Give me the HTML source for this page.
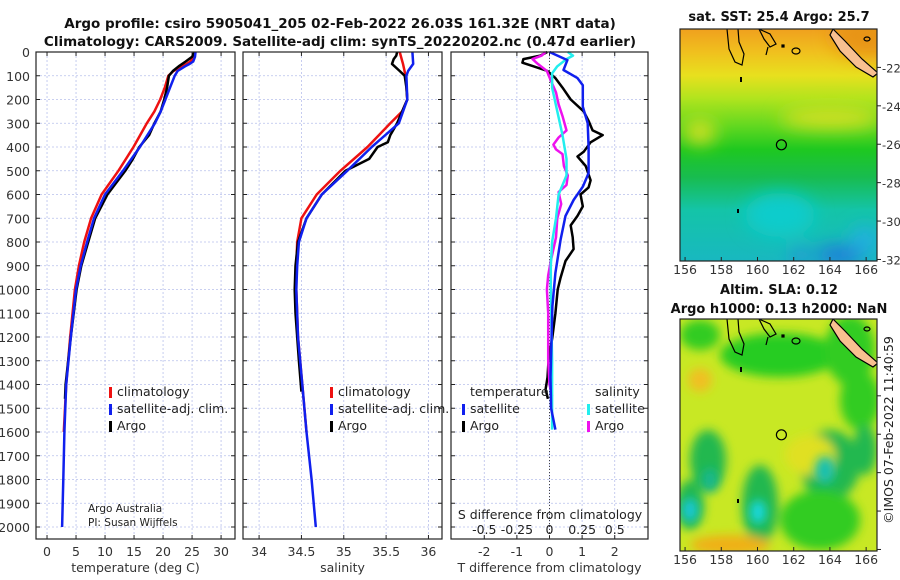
<!DOCTYPE html>
<html><head><meta charset="utf-8"><style>
html,body{margin:0;padding:0;background:#fff;}
svg{display:block;font-family:"DejaVu Sans","Liberation Sans",sans-serif;}
</style></head><body>
<svg id="fig" width="900" height="580" viewBox="0 0 900 580" xmlns="http://www.w3.org/2000/svg">
<defs>
<filter id="blur4" x="-20%" y="-20%" width="140%" height="140%"><feGaussianBlur stdDeviation="5"/></filter>
<filter id="blur8" x="-30%" y="-30%" width="160%" height="160%"><feGaussianBlur stdDeviation="9"/></filter>
<clipPath id="clipM1"><rect x="680" y="29" width="197" height="232"/></clipPath>
<clipPath id="clipM2"><rect x="680" y="319" width="197" height="232"/></clipPath>
<linearGradient id="sstGrad" x1="0" y1="0" x2="0" y2="1">
<stop offset="0" stop-color="#f0a01e"/><stop offset="0.1" stop-color="#f0c01e"/>
<stop offset="0.2" stop-color="#e8e01e"/><stop offset="0.3" stop-color="#b0e41e"/>
<stop offset="0.42" stop-color="#60d820"/><stop offset="0.52" stop-color="#1ec820"/>
<stop offset="0.64" stop-color="#18bc50"/><stop offset="0.78" stop-color="#14c4a8"/>
<stop offset="1" stop-color="#18b8c0"/>
</linearGradient>
</defs>
<g id="titles" font-weight="bold" font-size="13.5" text-anchor="middle" fill="#111">
<text x="340" y="28">Argo profile: csiro 5905041_205 02-Feb-2022 26.03S 161.32E (NRT data)</text>
<text x="340" y="46">Climatology: CARS2009. Satellite-adj clim: synTS_20220202.nc (0.47d earlier)</text>
</g>
<g id="panels"></g>
<g id="maps"></g>
</svg>
<script>
// ---------- data ----------
var depthTicks = [0,100,200,300,400,500,600,700,800,900,1000,1100,1200,1300,1400,1500,1600,1700,1800,1900,2000];
var tTicks = [0,5,10,15,20,25,30];
var sTicks = [34,34.5,35,35.5,36];
var sTickLabels = ['34','34.5','35','35.5','36'];
var dTTicks = [-2,-1,0,1,2];
var dSTicks = [-0.5,-0.25,0,0.25,0.5];
var dSTickLabels = ['-0.5','-0.25','0','0.25','0.5'];

var tClimDepth = [0,20,40,50,60,80,100,150,200,250,300,400,500,600,700,800,900,1000,1200,1400,1600];
var tClim = [25.5,25.3,24.7,24.1,23.2,21.8,20.9,20.3,19.5,18.5,17.2,14.9,12.3,9.4,7.6,6.4,5.5,4.8,4.0,3.3,2.9];
var tSatDepth = [0,20,40,50,60,80,100,150,200,250,300,400,500,600,700,800,900,1000,1200,1400,1600,1800,2000];
var tSat = [25.6,25.5,25.2,24.6,23.8,22.5,22.0,21.2,20.4,19.6,18.6,16.0,13.1,10.0,8.1,6.9,5.8,5.0,4.1,3.3,3.0,2.8,2.6];
var tArgoDepth = [0,20,40,50,60,80,100,150,200,250,300,350,400,450,500,600,700,800,900,1000,1200,1400,1460];
var tArgo = [25.4,25.0,23.9,23.3,22.7,21.7,21.0,20.7,20.2,19.6,18.5,17.6,15.9,14.8,13.5,10.4,8.3,7.1,5.9,5.1,4.1,3.2,3.1];

var sClimDepth = [0,50,100,200,250,300,400,500,600,700,800,900,1000,1100,1200,1400,1600];
var sClim = [35.66,35.70,35.73,35.75,35.69,35.55,35.28,34.96,34.68,34.50,34.45,34.44,34.44,34.45,34.46,34.51,34.56];
var sSatDepth = [0,50,80,100,200,300,400,500,600,700,800,900,1000,1200,1400,1600,1800,2000];
var sSat = [35.81,35.82,35.76,35.74,35.75,35.65,35.33,35.04,34.74,34.56,34.47,34.45,34.44,34.46,34.51,34.56,34.62,34.67];
var sArgoDepth = [0,15,30,50,80,100,150,200,300,350,380,400,450,500,600,700,800,900,1000,1100,1200,1300,1430];
var sArgo = [35.63,35.62,35.59,35.57,35.66,35.72,35.74,35.75,35.63,35.55,35.52,35.40,35.30,35.02,34.74,34.56,34.46,34.43,34.42,34.43,34.45,34.47,34.50];

var dTSatDepth = [0,34,76,110,140,230,300,400,510,567,623,690,790,930,1070,1370,1500,1590];
var dTSat = [0,0.55,0.43,0.86,1.02,1.02,1.17,1.2,1.2,1.02,0.74,0.49,0.34,0.18,0.09,0.03,0.05,0.18];
var dTArgoDepth = [0,15,30,45,60,80,110,150,200,250,290,330,350,380,420,440,480,540,570,600,650,690,730,780,830,880,950,1000,1100,1200,1300,1370,1420,1460];
var dTArgo = [-0.07,-0.28,-0.8,-0.83,-0.49,-0.06,0.18,0.4,0.65,1.05,1.2,1.32,1.63,1.26,1.05,0.86,1.11,1.26,1.2,0.95,1.02,0.86,0.65,0.71,0.74,0.49,0.34,0.25,0.18,0.09,-0.03,-0.06,-0.12,-0.05];
var dSSatDepth = [0,15,30,60,90,150,250,350,450,520,600,700,800,900,1000,1300,1590];
var dSSat = [0.14,0.18,0.13,0.06,0.02,0.02,0.06,0.1,0.13,0.13,0.07,0.05,0.02,0.01,0.01,0.02,0.02];
var dSArgoDepth = [0,15,30,50,80,120,170,220,270,330,360,390,410,430,480,520,560,590,640,700,780,880,940,1000,1100,1300,1400,1450];
var dSArgo = [-0.03,-0.06,-0.13,-0.09,-0.02,0.01,0.05,0.07,0.1,0.13,0.07,0.03,0.05,0.1,0.11,0.14,0.13,0.07,0.09,0.06,0.05,0.01,-0.01,-0.02,-0.01,-0.01,0,0.02];

var lonTicks = [156,158,160,162,164,166];
var latTicks = [-22,-24,-26,-28,-30,-32];
var floatLon = 161.32, floatLat = -26.03;

// ---------- helpers ----------
var NS = 'http://www.w3.org/2000/svg';
function mk(tag, attrs, parent){ var e=document.createElementNS(NS,tag); for(var k in attrs) e.setAttribute(k,attrs[k]); parent.appendChild(e); return e; }
var TOP=52, BOT=539;
function yD(d){ return 52 + d*(527-52)/2000; }
var panelsG = document.getElementById('panels');

function makePanel(name, x0, x1, v0, v1){
  return {name:name, x0:x0, x1:x1, x:function(v){ return x0 + (v-v0)/(v1-v0)*(x1-x0); }};
}
var P1 = makePanel('temperature-panel',36,235,-1.9,32.4);
var P2 = makePanel('salinity-panel',243,442,33.81,36.16);
var P3 = makePanel('difference-panel',451,648,-3.02,3.02);
function xS3(v){ return P3.x(v*4); }

function drawFrame(P, ticks, labels, showDepthLabels, xlabel){
  var g = mk('g',{},panelsG);
  
  
  var grid = mk('g',{stroke:'#b8c0ec','stroke-width':'0.8','stroke-dasharray':'2,2'},g);
  
  
  depthTicks.forEach(function(d){ mk('line',{x1:P.x0,x2:P.x1,y1:yD(d),y2:yD(d)},grid); });
  ticks.forEach(function(t){ var xx=P.x(t); mk('line',{x1:xx,x2:xx,y1:TOP,y2:BOT},grid); });
  var tk = mk('g',{stroke:'#222','stroke-width':'1'},g);
  depthTicks.forEach(function(d){ mk('line',{x1:P.x0,x2:P.x0+4,y1:yD(d),y2:yD(d)},tk); mk('line',{x1:P.x1-4,x2:P.x1,y1:yD(d),y2:yD(d)},tk); });
  ticks.forEach(function(t){ var xx=P.x(t); mk('line',{x1:xx,x2:xx,y1:BOT,y2:BOT-4},tk); mk('line',{x1:xx,x2:xx,y1:TOP,y2:TOP+4},tk); });
  var lab = mk('g',{'font-size':'12.5',fill:'#333','text-anchor':'middle'},g);
  
  
  ticks.forEach(function(t,i){ var e=mk('text',{x:P.x(t),y:556},lab); e.textContent=labels[i]; });
  var xl = mk('text',{x:(P.x0+P.x1)/2,y:572,'font-size':'12.5',fill:'#333','text-anchor':'middle'},g);
  xl.textContent = xlabel;
  
  
  if(showDepthLabels){
    var dl = mk('g',{'font-size':'12.5',fill:'#333','text-anchor':'end'},g);
    
    
    depthTicks.forEach(function(d){ var e=mk('text',{x:30,y:yD(d)+5},dl); e.textContent=d; });
  }
  return g;
}
function line(g, xs, ds, fx, color, w, name){
  var pts = xs.map(function(v,i){ return fx(v).toFixed(1)+','+yD(ds[i]).toFixed(1); }).join(' ');
  var p = mk('polyline',{points:pts,fill:'none',stroke:color,'stroke-width':w,'stroke-linejoin':'round'},g);
  
  
}
function legendItem(g, x, y, color, text, name){
  mk('rect',{x:x,y:y-9,width:3,height:11,fill:color},g);
  var t = mk('text',{x:x+8,y:y,'font-size':'12.5',fill:'#222'},g);
  t.textContent = text;
  
  
}
function border(g,P){ mk('rect',{x:P.x0,y:TOP,width:P.x1-P.x0,height:BOT-TOP,fill:'none',stroke:'#222','stroke-width':'1.2'},g); }

// Panel 1
var g1 = drawFrame(P1, tTicks, tTicks.map(String), true, 'temperature (deg C)');
line(g1, tClim, tClimDepth, P1.x, '#ee1111', 2.5, 'temperature-climatology-line');
line(g1, tArgo, tArgoDepth, P1.x, '#000', 2.5, 'temperature-argo-line');
line(g1, tSat, tSatDepth, P1.x, '#1020ee', 2.5, 'temperature-satellite-line');
var lg1 = mk('g',{},g1);


legendItem(lg1,109,396,'#ee1111','climatology','legend-entry-climatology');
legendItem(lg1,109,413,'#1020ee','satellite-adj. clim.','legend-entry-satellite');
legendItem(lg1,109,430,'#000','Argo','legend-entry-argo');
var cr = mk('text',{x:88,y:512,'font-size':'10.5',fill:'#222'},g1); cr.textContent='Argo Australia';


var pi = mk('text',{x:88,y:526,'font-size':'10.5',fill:'#222'},g1); pi.textContent='PI: Susan Wijffels';


border(g1,P1);

// Panel 2
var g2 = drawFrame(P2, sTicks, sTickLabels, false, 'salinity');
line(g2, sClim, sClimDepth, P2.x, '#ee1111', 2.5, 'salinity-climatology-line');
line(g2, sArgo, sArgoDepth, P2.x, '#000', 2.5, 'salinity-argo-line');
line(g2, sSat, sSatDepth, P2.x, '#1020ee', 2.5, 'salinity-satellite-line');
var lg2 = mk('g',{},g2);


legendItem(lg2,330,396,'#ee1111','climatology','legend-entry-climatology-2');
legendItem(lg2,330,413,'#1020ee','satellite-adj. clim.','legend-entry-satellite-2');
legendItem(lg2,330,430,'#000','Argo','legend-entry-argo-2');
border(g2,P2);

// Panel 3
var g3 = drawFrame(P3, dTTicks, dTTicks.map(String), false, 'T difference from climatology');
mk('line',{x1:P3.x(0),x2:P3.x(0),y1:TOP,y2:BOT,stroke:'#444','stroke-width':'1','stroke-dasharray':'1,2'},g3);
line(g3, dTArgo, dTArgoDepth, P3.x, '#000', 2.5, 'temperature-argo-difference-line');
line(g3, dSArgo, dSArgoDepth, xS3, '#ee11ee', 2.5, 'salinity-argo-difference-line');
line(g3, dSSat, dSSatDepth, xS3, '#22eeee', 2.5, 'salinity-satellite-difference-line');
line(g3, dTSat, dTSatDepth, P3.x, '#1020ee', 2.5, 'temperature-satellite-difference-line');
var lg3 = mk('g',{},g3);


var lt = mk('text',{x:470,y:396,'font-size':'12.5',fill:'#222'},lg3); lt.textContent='temperature';
var ls = mk('text',{x:595,y:396,'font-size':'12.5',fill:'#222'},lg3); ls.textContent='salinity';
legendItem(lg3,462,413,'#1020ee','satellite','legend-entry-t-satellite');
legendItem(lg3,462,430,'#000','Argo','legend-entry-t-argo');
legendItem(lg3,587,413,'#22eeee','satellite','legend-entry-s-satellite');
legendItem(lg3,587,430,'#ee11ee','Argo','legend-entry-s-argo');
var st = mk('text',{x:550,y:519,'font-size':'12.5',fill:'#222','text-anchor':'middle'},g3); st.textContent='S difference from climatology';


var sl = mk('g',{'font-size':'12.5',fill:'#222','text-anchor':'middle'},g3);


dSTicks.forEach(function(v,i){ var e=mk('text',{x:xS3(v),y:534},sl); e.textContent=dSTickLabels[i]; });
border(g3,P3);

// ---------- maps ----------
var mapsG = document.getElementById('maps');
function mapAxes(y0){
  return { x:function(lon){ return 680 + (lon-155.72)/(166.6-155.72)*197; },
           y:function(lat){ return y0 + (-20.0-lat)/(12.08)*232; }, y0:y0 };
}
function drawMap(name, y0, clip, title1, title2, fill, latLabels){
  var A = mapAxes(y0);
  var g = mk('g',{},mapsG);
  
  
  var inner = mk('g',{'clip-path':'url(#'+clip+')'},g);
  fill(inner, A);
  var c = mk('g',{fill:'none',stroke:'#000','stroke-width':'1.2'},inner);
  mk('path',{d:'M727 '+(y0)+' L729 '+(y0+20)+' L735 '+(y0+33)+' L742 '+(y0+36)+' L744 '+(y0+25)+' L739 '+(y0+13)+' L738 '+(y0)},c);
  mk('path',{d:'M759 '+(y0)+' L770 '+(y0+5)+' L776 '+(y0+15)+' L770 '+(y0+18)+' L764 '+(y0+10)+' Z'},c);
  mk('path',{d:'M792 '+(y0+22)+' a4 3 0 1 0 8 0 a4 3 0 1 0 -8 0'},c);
  mk('path',{d:'M768 '+(y0+18)+' l-2 8'},c);
  mk('rect',{x:782,y:y0+16,width:2,height:2,fill:'#000'},c);
  mk('rect',{x:740,y:y0+48,width:2,height:5,fill:'#000',stroke:'none'},c);
  mk('rect',{x:737,y:y0+180,width:2,height:4,fill:'#000',stroke:'none'},c);
  mk('path',{d:'M833 '+(y0)+' L845 '+(y0+12)+' L862 '+(y0+30)+' L878 '+(y0+44)+' L873 '+(y0+48)+' L856 '+(y0+38)+' L840 '+(y0+22)+' L830 '+(y0+6)+' Z',fill:'#f8c090',stroke:'#000','stroke-width':'1.2'},inner);
  mk('path',{d:'M864 '+(y0+10)+' a3 2 0 1 0 6 0 a3 2 0 1 0 -6 0'},c);
  var m = mk('circle',{cx:A.x(floatLon),cy:A.y(floatLat),r:5,fill:'none',stroke:'#000','stroke-width':'1.2'},g);
  
  
  mk('rect',{x:680,y:y0,width:197,height:232,fill:'none',stroke:'#222','stroke-width':'1.2'},g);
  var tk = mk('g',{stroke:'#222'},g);
  var lb = mk('g',{'font-size':'12.5',fill:'#333'},g);
  
  
  lonTicks.forEach(function(l){ var xx=A.x(l); mk('line',{x1:xx,x2:xx,y1:y0+232,y2:y0+228},tk); var e=mk('text',{x:xx,y:y0+245,'text-anchor':'middle'},lb); e.textContent=l; });
  latTicks.forEach(function(l){ var yy=A.y(l); mk('line',{x1:877,x2:881,y1:yy,y2:yy},tk); if(latLabels){ var e=mk('text',{x:882,y:yy+5,'font-size':'11.5'},lb); e.textContent=l; } });
  var t = mk('text',{x:779,y:title2?y0-25:y0-8,'font-size':'13','font-weight':'bold','text-anchor':'middle',fill:'#111'},g);
  t.textContent = title1;
  
  
  if(title2){ var t2 = mk('text',{x:779,y:y0-6,'font-size':'13','font-weight':'bold','text-anchor':'middle',fill:'#111'},g); t2.textContent=title2;
    
     }
}
drawMap('sst-map', 29, 'clipM1', 'sat. SST: 25.4 Argo: 25.7', null, function(g){
  mk('rect',{x:680,y:29,width:197,height:232,fill:'url(#sstGrad)'},g);
  var b = mk('g',{filter:'url(#blur8)'},g);
  mk('ellipse',{cx:870,cy:35,rx:40,ry:22,fill:'#e89418'},b);
  mk('ellipse',{cx:700,cy:132,rx:16,ry:12,fill:'#d8e020'},b);
  mk('ellipse',{cx:830,cy:118,rx:50,ry:10,fill:'#d8e020'},b);
  mk('ellipse',{cx:780,cy:215,rx:35,ry:22,fill:'#10cccc'},b);
  mk('ellipse',{cx:840,cy:255,rx:25,ry:8,fill:'#2070e0'},b);
  mk('ellipse',{cx:800,cy:255,rx:8,ry:6,fill:'#2c7ce8'},b);
  mk('ellipse',{cx:865,cy:240,rx:14,ry:14,fill:'#20b0e0'},b);
}, true);
drawMap('sla-map', 319, 'clipM2', 'Altim. SLA: 0.12', 'Argo h1000: 0.13 h2000: NaN', function(g){
  mk('rect',{x:680,y:319,width:197,height:232,fill:'#c8e824'},g);
  var b = mk('g',{filter:'url(#blur4)'},g);
  mk('ellipse',{cx:780,cy:355,rx:60,ry:22,fill:'#28cc20'},b);
  mk('ellipse',{cx:700,cy:335,rx:20,ry:15,fill:'#30cc20'},b);
  mk('ellipse',{cx:850,cy:350,rx:25,ry:35,fill:'#30cc20'},b);
  mk('ellipse',{cx:860,cy:400,rx:20,ry:30,fill:'#30cc20'},b);
  mk('ellipse',{cx:708,cy:460,rx:18,ry:30,fill:'#20b850'},b);
  mk('ellipse',{cx:760,cy:505,rx:18,ry:40,fill:'#20b850'},b);
  mk('ellipse',{cx:830,cy:465,rx:30,ry:35,fill:'#20b850'},b);
  mk('ellipse',{cx:865,cy:450,rx:12,ry:25,fill:'#20b850'},b);
  mk('ellipse',{cx:690,cy:505,rx:14,ry:25,fill:'#20b850'},b);
  mk('ellipse',{cx:820,cy:520,rx:40,ry:30,fill:'#30cc20'},b);
  mk('ellipse',{cx:700,cy:380,rx:12,ry:12,fill:'#f0c020'},b);
  mk('ellipse',{cx:730,cy:545,rx:40,ry:10,fill:'#f0b018'},b);
  mk('ellipse',{cx:810,cy:455,rx:25,ry:20,fill:'#e0e020'},b);
  var c = mk('g',{filter:'url(#blur4)'},g);
  mk('ellipse',{cx:690,cy:510,rx:8,ry:12,fill:'#18c8d8'},c);
  mk('ellipse',{cx:758,cy:512,rx:8,ry:12,fill:'#18d8e0'},c);
  mk('ellipse',{cx:825,cy:470,rx:10,ry:14,fill:'#18c0b0'},c);
  mk('ellipse',{cx:710,cy:480,rx:8,ry:12,fill:'#18b890'},c);
}, false);
var cp = mk('text',{x:0,y:0,'font-size':'12.5',fill:'#222','text-anchor':'middle',transform:'translate(893,430) rotate(-90)'},mapsG);
cp.textContent = '\u00a9IMOS 07-Feb-2022 11:40:59';


</script>
</body></html>
